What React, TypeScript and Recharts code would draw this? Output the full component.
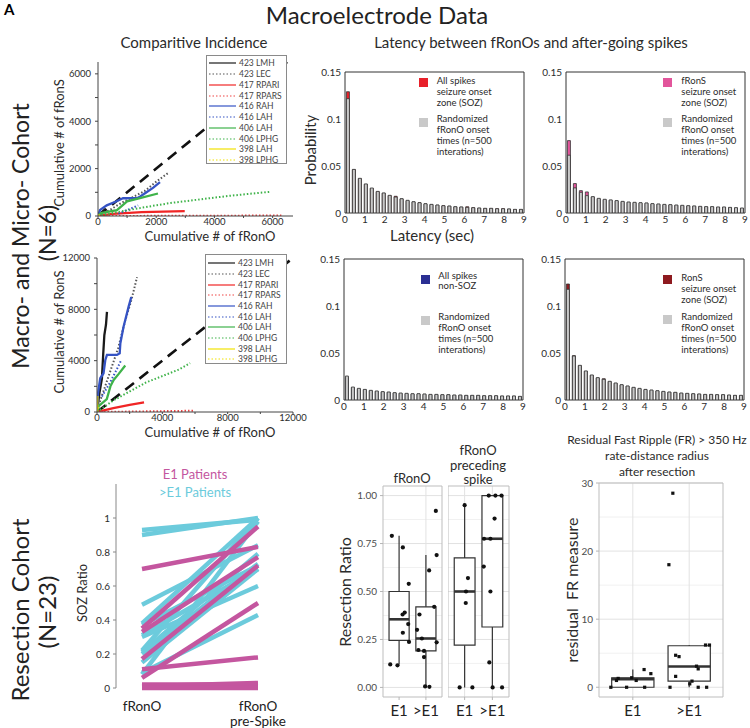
import {
  LineChart,
  Line,
  XAxis,
  YAxis,
  BarChart,
  Bar,
  ComposedChart,
  Scatter,
  ReferenceArea,
  ReferenceLine,
  CartesianGrid,
} from "recharts";

const FONT = "Lato, 'Open Sans', sans-serif";
const INK = "#2b2b2b";
const MAGENTA = "#c4569f";
const CYAN = "#6ccbdc";

// ---------- comparative incidence: [cumulative fRonO, cumulative fRonS / RonS] ----------
const channelNames = ["423 LMH", "423 LEC", "417 RPARI", "417 RPARS", "416 RAH", "416 LAH", "406 LAH", "406 LPHG", "398 LAH", "398 LPHG"];
const channelColors = ["#1a1a1a", "#555555", "#f02525", "#f04545", "#3553c4", "#3553c4", "#3fb34a", "#3fb34a", "#f2e200", "#f2e200"];
const channelDotted = [false, true, false, true, false, true, false, true, false, true];

const fronsLMH = [[0, 0], [120, 140], [260, 300]];
const fronsLEC = [[0, 0], [400, 250], [800, 550], [1200, 800], [1600, 1050], [2000, 1450], [2450, 1850]];
const fronsRPARI = [[0, 0], [500, 90], [1500, 160], [2980, 210]];
const fronsRPARS = [[0, 0], [3000, 10], [6300, 20]];
const fronsRAH = [[0, 0], [70, 250], [300, 450], [600, 600], [860, 750], [1340, 750], [1450, 820], [1680, 1010], [1900, 1200], [2130, 1430]];
const fronsLAH416 = [[700, 100], [1000, 250], [1200, 350], [1380, 450]];
const fronsLAH406 = [[0, 0], [100, 120], [650, 250], [1000, 620], [1440, 750], [2060, 950]];
const fronsLPHG406 = [[0, 0], [600, 150], [1500, 350], [2500, 550], [3500, 700], [4500, 850], [5900, 1020]];
const fronsLAH398 = [[0, 0], [40, 70]];
const fronsLPHG398 = [[0, 0], [80, 40]];
const fronsDiag = [[0, 0], [6500, 6500]];

const ronsLMH = [[0, 0], [150, 1500], [300, 2600], [380, 4500], [450, 6000], [550, 6800], [610, 7800]];
const ronsLEC = [[0, 0], [200, 900], [500, 2000], [900, 3500], [1300, 5000], [1700, 7000], [2100, 8700], [2450, 10500]];
const ronsRPARI = [[0, 0], [1000, 300], [2000, 550], [2880, 750]];
const ronsRPARS = [[0, 0], [3000, 50], [6000, 100]];
const ronsRAH = [[0, 0], [60, 1460], [200, 2630], [400, 3020], [510, 4060], [610, 4450], [1220, 4450], [1390, 4580], [1430, 5360], [1630, 6670], [1940, 8230], [2100, 8960]];
const ronsLAH416 = [[300, 1200], [800, 2300], [1200, 3300], [1470, 4000]];
const ronsLAH406 = [[0, 0], [100, 450], [600, 1000], [820, 2000], [1020, 2500], [1330, 2970], [1730, 3620]];
const ronsLPHG406 = [[0, 0], [1000, 900], [2000, 1600], [3000, 2300], [4000, 2800], [5000, 3300], [5700, 3800]];
const ronsLAH398 = [[0, 0], [20, 1250]];
const ronsLPHG398 = [[0, 0], [60, 400]];
const ronsDiag = [[0, 0], [12000, 12000]];

const fronsTicks = [0, 1000, 2000, 3000, 4000, 5000, 6000];
const ronsTicks = [0, 2000, 4000, 6000, 8000, 10000, 12000];

// ---------- latency histograms ----------
const latencyBins = [0.15, 0.45, 0.75, 1.05, 1.35, 1.65, 1.95, 2.25, 2.55, 2.85, 3.15, 3.45, 3.75, 4.05, 4.35, 4.65, 4.95, 5.25, 5.55, 5.85, 6.15, 6.45, 6.75, 7.05, 7.35, 7.65, 7.95, 8.25, 8.55, 8.85];
const latencyTicks = [0, 1, 2, 3, 4, 5, 6, 7, 8, 9];
const probTicks = [0, 0.05, 0.1, 0.15];

const spikesSozRand = [0.1216, 0.0464, 0.0369, 0.0309, 0.0266, 0.023, 0.0213, 0.0188, 0.017, 0.0152, 0.0135, 0.012, 0.011, 0.0099, 0.0092, 0.0085, 0.0078, 0.0074, 0.0067, 0.0064, 0.006, 0.0057, 0.0053, 0.005, 0.005, 0.0046, 0.0046, 0.0043, 0.0039, 0.0039];
const spikesSozObs = [0.129, 0.046, 0.0365, 0.0305, 0.026, 0.0225, 0.021, 0.0185, 0.0178, 0.015, 0.013, 0.0118, 0.0108, 0.0097, 0.009, 0.0083, 0.0076, 0.0072, 0.0065, 0.0062, 0.0066, 0.0055, 0.0051, 0.0048, 0.0048, 0.0044, 0.0044, 0.0041, 0.0037, 0.0037];

const fronsSozRand = [0.0615, 0.0267, 0.022, 0.0185, 0.0174, 0.0156, 0.0146, 0.0139, 0.0132, 0.0124, 0.0117, 0.0114, 0.011, 0.0107, 0.01, 0.0096, 0.0092, 0.0089, 0.0085, 0.0082, 0.0078, 0.0075, 0.0071, 0.0068, 0.0068, 0.0064, 0.0064, 0.006, 0.0057, 0.0053];
const fronsSozObs = [0.077, 0.0313, 0.0238, 0.0224, 0.017, 0.015, 0.014, 0.0135, 0.0128, 0.012, 0.0113, 0.011, 0.0106, 0.0103, 0.0096, 0.0092, 0.0088, 0.0085, 0.0081, 0.0078, 0.0074, 0.0071, 0.0067, 0.0064, 0.0064, 0.006, 0.006, 0.0056, 0.0053, 0.0049];

const spikesNonSozRand = [0.0255, 0.0138, 0.0124, 0.0113, 0.0103, 0.0096, 0.0089, 0.0085, 0.0078, 0.0074, 0.0071, 0.0067, 0.0067, 0.0064, 0.006, 0.006, 0.0057, 0.0057, 0.0053, 0.0053, 0.005, 0.005, 0.005, 0.0046, 0.0046, 0.0046, 0.0043, 0.0043, 0.0043, 0.0039];
const spikesNonSozObs = [0.024, 0.013, 0.0118, 0.0108, 0.0098, 0.0091, 0.0085, 0.0081, 0.0074, 0.007, 0.0067, 0.0063, 0.0063, 0.006, 0.0057, 0.0057, 0.0054, 0.0054, 0.005, 0.005, 0.0047, 0.0047, 0.0047, 0.0043, 0.0043, 0.0043, 0.004, 0.004, 0.004, 0.0036];

const ronsSozRand = [0.1177, 0.0468, 0.0369, 0.0309, 0.0266, 0.0238, 0.022, 0.0199, 0.0181, 0.0163, 0.0149, 0.0135, 0.0124, 0.0113, 0.0106, 0.0099, 0.0092, 0.0085, 0.0082, 0.0074, 0.0071, 0.0067, 0.0064, 0.006, 0.006, 0.0057, 0.0057, 0.0053, 0.005, 0.005];
const ronsSozObs = [0.1234, 0.0472, 0.0365, 0.0305, 0.0262, 0.0234, 0.0226, 0.0195, 0.0177, 0.016, 0.0146, 0.0132, 0.0121, 0.011, 0.0103, 0.0096, 0.0089, 0.0082, 0.0079, 0.0071, 0.0068, 0.0064, 0.0061, 0.0057, 0.0057, 0.0054, 0.0054, 0.005, 0.0047, 0.0047];

// ---------- SOZ ratio (resection cohort) ----------
const sozCats = ["fRonO", "fRonO pre-Spike"];
const sozTicks = [0, 0.2, 0.4, 0.6, 0.8, 1];
const e1Start = [0.7, 0.35, 0.33, 0.17, 0.06, 0.11, 0.02, 0.01, 0.01, 0.0];
const e1End = [0.83, 0.95, 0.77, 0.72, 0.5, 0.18, 0.02, 0.03, 0.01, 0.0];
const gtStart = [0.93, 0.9, 0.49, 0.38, 0.37, 0.31, 0.22, 0.21, 0.2, 0.15, 0.09, 0.08, 0.3];
const gtEnd = [0.99, 1.0, 0.84, 1.0, 0.72, 0.7, 1.0, 0.79, 0.73, 0.7, 0.43, 0.98, 0.6];

// ---------- resection ratio boxplots ----------
const resectCats = ["E1", ">E1"];
const ratioTicks = [0, 0.25, 0.5, 0.75, 1];
const ratioMinor = [0.125, 0.375, 0.625, 0.875];

const fronoQ1 = [0.245, 0.19];
const fronoMed = [0.355, 0.255];
const fronoQ3 = [0.5, 0.42];
const fronoLo = [0.12, 0.0];
const fronoHi = [0.79, 0.69];
const fronoE1Vals = [0.79, 0.73, 0.54, 0.39, 0.38, 0.33, 0.285, 0.237, 0.12, 0.115];
const fronoE1Jit = [-0.27, 0.14, 0.36, 0.21, 0.13, 0.34, 0.14, 0.37, -0.33, -0.06];
const fronoGtVals = [0.92, 0.69, 0.61, 0.42, 0.38, 0.3, 0.255, 0.235, 0.195, 0.19, 0.158, 0.005, 0.003];
const fronoGtJit = [0.37, 0.4, 0.12, 0.31, -0.24, -0.33, -0.15, 0.4, -0.28, -0.07, -0.07, -0.03, 0.13];

const preQ1 = [0.22, 0.315];
const preMed = [0.5, 0.775];
const preQ3 = [0.675, 1.0];
const preLo = [0.0, 0.0];
const preHi = [0.955, 1.0];
const preE1Vals = [0.95, 0.57, 0.5, 0.44, 0.0, 0.0];
const preE1Jit = [0.0, 0.12, 0.05, 0.04, -0.18, 0.28];
const preGtVals = [1.0, 1.0, 1.0, 0.88, 0.775, 0.775, 0.63, 0.5, 0.13, 0.0, 0.0];
const preGtJit = [-0.13, 0.11, 0.33, 0.08, -0.3, -0.07, -0.31, -0.07, -0.11, 0.01, 0.35];

// ---------- residual FR ----------
const frTicks = [0, 10, 20, 30];
const frMinor = [5, 15, 25];
const frQ1 = [0.0, 0.9];
const frMed = [1.2, 3.05];
const frQ3 = [1.4, 6.1];
const frLo = [0.0, 0.0];
const frHi = [2.6, 6.2];
const frE1Vals = [0, 1.0, 1.3, 0, 1.4, 1.0, 2.6, 0, 2.0];
const frE1Jit = [-0.39, -0.29, -0.26, -0.11, -0.02, 0.06, 0.2, 0.21, 0.32];
const frGtVals = [28.5, 18, 4.7, 4.5, 1.6, 0, 0.9, 0.5, 3.1, 2.7, 0, 0, 6.2, 6.2];
const frGtJit = [-0.29, -0.36, -0.24, -0.18, -0.24, -0.34, 0.05, 0.01, 0.13, 0.16, 0.16, 0.31, 0.29, 0.36];

type Rect = { l: number; t: number; r: number; b: number };

// chart box so that the plot area lands on rect
function frame(p: Rect, yw: number, xh: number, mt = 5, mr = 5) {
  const left = p.l - yw;
  const top = p.t - mt;
  const width = p.r - left + mr;
  const height = p.b - top + xh;
  return {
    style: { position: "absolute" as const, left, top, width, height },
    width,
    height,
    margin: { top: mt, right: mr, left: 0, bottom: 0 },
  };
}

const toPts = (a: number[][]) => a.map(([x, y]) => ({ x, y }));

function Txt({ x, y, s, c = INK, rot = false, lh, children }: any) {
  return (
    <div
      style={{
        position: "absolute",
        left: x,
        top: y,
        transform: `translate(-50%, -50%)${rot ? " rotate(-90deg)" : ""}`,
        fontSize: s,
        color: c,
        whiteSpace: "nowrap",
        lineHeight: lh ? `${lh}px` : 1,
        textAlign: "center",
      }}
    >
      {children}
    </div>
  );
}

function CumulativePanel({ rect, xMax, yMax, ticks, labelEvery, series, diag }: any) {
  const f = frame(rect, 40, 14, 5, 16);
  const fmt = (v: number) => (v % labelEvery === 0 ? String(v) : "");
  return (
    <div style={f.style}>
      <LineChart width={f.width} height={f.height} margin={f.margin}>
        <XAxis type="number" dataKey="x" domain={[0, xMax]} ticks={ticks} tickFormatter={fmt} allowDataOverflow height={14}
          tick={{ fontSize: 9.5, fill: INK }} tickSize={2} tickMargin={0} stroke="#444" />
        <YAxis type="number" dataKey="y" domain={[0, yMax]} ticks={ticks} tickFormatter={fmt} allowDataOverflow width={40}
          tick={{ fontSize: 9.5, fill: INK }} tickSize={3} tickMargin={4} stroke="#444" />
        <Line data={toPts(diag)} dataKey="y" stroke="#111" strokeWidth={2.6} strokeDasharray="11 7" dot={false} isAnimationActive={false} />
        {series.map((s: number[][], i: number) => (
          <Line key={channelNames[i]} data={toPts(s)} dataKey="y" stroke={channelColors[i]}
            strokeWidth={channelDotted[i] ? 2 : 2.3} strokeDasharray={channelDotted[i] ? "1.5 2" : undefined}
            dot={false} isAnimationActive={false} />
        ))}
      </LineChart>
    </div>
  );
}

function ChannelKey({ left, top, w, h, firstY, step }: any) {
  return (
    <div style={{ position: "absolute", left, top, width: w, height: h, border: "1px solid #8a8a8a", background: "#fff", boxSizing: "border-box" }}>
      {channelNames.map((n, i) => (
        <div key={n} style={{ position: "absolute", left: 2, top: firstY - top + i * step - 5, height: 10, display: "flex", alignItems: "center", fontSize: 8.5, color: "#444", whiteSpace: "nowrap" }}>
          <svg width={27} height={4}>
            <line x1={0} y1={2} x2={27} y2={2} stroke={channelColors[i]} strokeWidth={1.2} strokeDasharray={channelDotted[i] ? "1.5 2" : undefined} />
          </svg>
          <span style={{ marginLeft: 3 }}>{n}</span>
        </div>
      ))}
    </div>
  );
}

function LatencyHist({ rect, obs, rnd, color }: any) {
  const f = frame(rect, 40, 18, 6, 4);
  const data = latencyBins.map((b, i) => ({ bin: b, obs: obs[i], rnd: rnd[i] }));
  return (
    <div style={f.style}>
      <BarChart width={f.width} height={f.height} data={data} margin={f.margin} barCategoryGap="24%">
        <XAxis xAxisId="t" dataKey="bin" type="number" domain={[0, 9]} ticks={latencyTicks} allowDataOverflow height={18}
          axisLine={false} tickLine={false} tickSize={0} tickMargin={3} tick={{ fontSize: 10, fill: INK }} />
        <XAxis xAxisId="o" dataKey="bin" hide height={0} />
        <XAxis xAxisId="r" dataKey="bin" hide height={0} />
        <YAxis type="number" domain={[0, 0.15]} ticks={probTicks} allowDataOverflow width={40}
          axisLine={false} tickLine={false} tickSize={0} tickMargin={4} tick={{ fontSize: 10, fill: INK }} />
        <Bar xAxisId="o" dataKey="obs" fill={color} stroke="#333" strokeWidth={0.8} isAnimationActive={false} />
        <Bar xAxisId="r" dataKey="rnd" fill="#c9c9c9" stroke="#333" strokeWidth={0.8} isAnimationActive={false} />
        <ReferenceArea xAxisId="t" x1={0} x2={9} y1={0} y2={0.15} fill="none" stroke="#333" strokeWidth={1} ifOverflow="visible" />
      </BarChart>
    </div>
  );
}

function KeyItem({ sx, sy, tx, ty, lh = 11, color, lines }: any) {
  return (
    <>
      <div style={{ position: "absolute", left: sx - 4.5, top: sy - 4.5, width: 9, height: 9, background: color }} />
      <div style={{ position: "absolute", left: tx, top: ty, fontSize: 9.5, lineHeight: `${lh}px`, color: INK, whiteSpace: "nowrap" }}>
        {lines.map((l: string) => (
          <div key={l}>{l}</div>
        ))}
      </div>
    </>
  );
}

function SozTick(props: any) {
  const { x, y, payload } = props;
  const parts = String(payload.value).split(" ");
  return (
    <text x={x} y={y} textAnchor="middle" fontSize={13.5} fill="#222">
      {parts.map((p, i) => (
        <tspan key={p} x={x} dy={i === 0 ? 21 : 14.5}>
          {p}
        </tspan>
      ))}
    </text>
  );
}

function SozPanel() {
  const f = frame({ l: 116, t: 484, r: 290, b: 688 }, 30, 40, 5, 5);
  const data = sozCats.map((c, k) => {
    const row: Record<string, any> = { cat: c };
    gtStart.forEach((v, i) => (row["g" + i] = k === 0 ? v : gtEnd[i]));
    e1Start.forEach((v, i) => (row["e" + i] = k === 0 ? v : e1End[i]));
    return row;
  });
  return (
    <div style={f.style}>
      <LineChart width={f.width} height={f.height} data={data} margin={f.margin}>
        <XAxis dataKey="cat" padding={{ left: 26, right: 32 }} axisLine={false} tickLine={false} tickSize={0} tickMargin={2}
          height={40} interval={0} tick={(p: any) => <SozTick {...p} />} />
        <YAxis type="number" domain={[0, 1.2]} ticks={sozTicks} width={30} stroke="#888" tickSize={3} tickMargin={3}
          tick={{ fontSize: 10, fill: INK }} />
        {gtStart.map((_, i) => (
          <Line key={"g" + i} dataKey={"g" + i} stroke={CYAN} strokeWidth={4.5} dot={false} isAnimationActive={false} />
        ))}
        {e1Start.map((_, i) => (
          <Line key={"e" + i} dataKey={"e" + i} stroke={MAGENTA} strokeWidth={4.5} dot={false} isAnimationActive={false} />
        ))}
      </LineChart>
    </div>
  );
}

function BoxPanel({ rect, yw, showY, yDomain, yTicks, yMinor, yFmt, q1, med, q3, lo, hi, e1Vals, e1Jit, gtVals, gtJit, square }: any) {
  const f = frame(rect, showY ? yw : 0, 25, 5, 5);
  const pts = [
    ...e1Vals.map((v: number, i: number) => ({ x: 1 + e1Jit[i], y: v })),
    ...gtVals.map((v: number, i: number) => ({ x: 2 + gtJit[i], y: v })),
  ];
  const shape = (p: any) =>
    square ? <rect x={p.cx - 1.6} y={p.cy - 1.6} width={3.2} height={3.2} fill="#111" /> : <circle cx={p.cx} cy={p.cy} r={2.1} fill="#111" />;
  return (
    <div style={f.style}>
      <ComposedChart width={f.width} height={f.height} margin={f.margin}>
        <CartesianGrid horizontalValues={yMinor} vertical={false} stroke="#f1f1f1" />
        <CartesianGrid horizontalValues={yTicks} verticalValues={[1, 2]} stroke="#e2e2e2" />
        <XAxis type="number" dataKey="x" domain={[0.4, 2.6]} ticks={[1, 2]} tickFormatter={(v) => resectCats[v - 1]} allowDataOverflow
          height={25} axisLine={false} tickSize={3} tickMargin={5} stroke="#b5b5b5" tick={{ fontSize: 15, fill: "#222" }} />
        <YAxis type="number" dataKey="y" domain={yDomain} ticks={yTicks} tickFormatter={yFmt} allowDataOverflow hide={!showY}
          width={yw} axisLine={false} tickSize={3} tickMargin={3} stroke="#b5b5b5" tick={{ fontSize: 10, fill: "#4d4d4d" }} />
        <ReferenceArea x1={0.4} x2={2.6} y1={yDomain[0]} y2={yDomain[1]} fill="none" stroke="#bdbdbd" strokeWidth={1} ifOverflow="visible" />
        {resectCats.map((c, i) => (
          <ReferenceArea key={"b" + c} x1={i + 1 - 0.375} x2={i + 1 + 0.375} y1={q1[i]} y2={q3[i]} fill="#fff" fillOpacity={1}
            stroke="#333" strokeWidth={1.2} ifOverflow="visible" />
        ))}
        {resectCats.map((c, i) => (
          <ReferenceLine key={"lo" + c} segment={[{ x: i + 1, y: lo[i] }, { x: i + 1, y: q1[i] }]} stroke="#333" strokeWidth={1.2} ifOverflow="visible" />
        ))}
        {resectCats.map((c, i) => (
          <ReferenceLine key={"hi" + c} segment={[{ x: i + 1, y: q3[i] }, { x: i + 1, y: hi[i] }]} stroke="#333" strokeWidth={1.2} ifOverflow="visible" />
        ))}
        {resectCats.map((c, i) => (
          <ReferenceLine key={"md" + c} segment={[{ x: i + 1 - 0.375, y: med[i] }, { x: i + 1 + 0.375, y: med[i] }]} stroke="#333" strokeWidth={2.6} ifOverflow="visible" />
        ))}
        <Scatter data={pts} shape={shape} isAnimationActive={false} />
      </ComposedChart>
    </div>
  );
}

export default function App() {
  const ratioFmt = (v: number) => v.toFixed(2);
  return (
    <div style={{ position: "absolute", left: 0, top: 0, width: 750, height: 728, background: "#fff", overflow: "hidden", fontFamily: FONT, color: INK }}>
      <div style={{ position: "absolute", left: 4, top: 2, fontSize: 15, lineHeight: 1, fontWeight: 700, color: "#000" }}>A</div>
      <Txt x={377} y={15} s={24} c="#222">Macroelectrode Data</Txt>

      <Txt x={20} y={236} s={23} rot c="#222">Macro- and Micro- Cohort</Txt>
      <Txt x={47} y={233} s={23} rot c="#222">(N=6)</Txt>
      <Txt x={20} y={610} s={24} rot c="#222">Resection Cohort</Txt>
      <Txt x={47} y={612} s={24} rot c="#222">(N=23)</Txt>

      {/* comparative incidence */}
      <Txt x={194} y={42} s={15}>Comparitive Incidence</Txt>
      <CumulativePanel rect={{ l: 98, t: 62, r: 293, b: 216 }} xMax={6700} yMax={6500} ticks={fronsTicks} labelEvery={2000}
        diag={fronsDiag}
        series={[fronsLMH, fronsLEC, fronsRPARI, fronsRPARS, fronsRAH, fronsLAH416, fronsLAH406, fronsLPHG406, fronsLAH398, fronsLPHG398]} />
      <ChannelKey left={206} top={55} w={81} h={109} firstY={62.3} step={10.75} />
      <Txt x={59} y={143} s={13} rot>Cumulative # of fRonS</Txt>
      <Txt x={210} y={236} s={13}>Cumulative # of fRonO</Txt>

      <CumulativePanel rect={{ l: 97, t: 258, r: 293, b: 412 }} xMax={12000} yMax={12000} ticks={ronsTicks} labelEvery={4000}
        diag={ronsDiag}
        series={[ronsLMH, ronsLEC, ronsRPARI, ronsRPARS, ronsRAH, ronsLAH416, ronsLAH406, ronsLPHG406, ronsLAH398, ronsLPHG398]} />
      <ChannelKey left={205} top={254} w={82} h={110} firstY={262.3} step={10.67} />
      <Txt x={59} y={332} s={13} rot>Cumulative # of RonS</Txt>
      <Txt x={210} y={432} s={13}>Cumulative # of fRonO</Txt>

      {/* latency histograms */}
      <Txt x={531} y={42} s={15}>Latency between fRonOs and after-going spikes</Txt>
      <LatencyHist rect={{ l: 345, t: 72, r: 524, b: 213 }} obs={spikesSozObs} rnd={spikesSozRand} color="#e8202a" />
      <LatencyHist rect={{ l: 566, t: 72, r: 745, b: 213 }} obs={fronsSozObs} rnd={fronsSozRand} color="#e2559b" />
      <LatencyHist rect={{ l: 344, t: 259, r: 523, b: 400 }} obs={spikesNonSozObs} rnd={spikesNonSozRand} color="#2b2f93" />
      <LatencyHist rect={{ l: 565, t: 259, r: 744, b: 400 }} obs={ronsSozObs} rnd={ronsSozRand} color="#8e1a1f" />
      <Txt x={310} y={150} s={15} rot>Probability</Txt>
      <Txt x={432} y={235} s={15}>Latency (sec)</Txt>

      <KeyItem sx={423.3} sy={82.5} tx={436.7} ty={75.3} color="#e8202a" lines={["All spikes", "seizure onset", "zone (SOZ)"]} />
      <KeyItem sx={423.3} sy={122.5} tx={436.7} ty={113} color="#c9c9c9" lines={["Randomized", "fRonO onset", "times (n=500", "interations)"]} />
      <KeyItem sx={667} sy={82} tx={681.3} ty={75.3} color="#e2559b" lines={["fRonS", "seizure onset", "zone (SOZ)"]} />
      <KeyItem sx={667} sy={122.3} tx={681.3} ty={113} color="#c9c9c9" lines={["Randomized", "fRonO onset", "times (n=500", "interations)"]} />
      <KeyItem sx={425.3} sy={279.5} tx={438.3} ty={271.3} lh={10} color="#2b2f93" lines={["All spikes", "non-SOZ"]} />
      <KeyItem sx={425.3} sy={320.3} tx={438.3} ty={310.6} color="#c9c9c9" lines={["Randomized", "fRonO onset", "times (n=500", "interations)"]} />
      <KeyItem sx={667.3} sy={279.7} tx={681.3} ty={272} color="#8e1a1f" lines={["RonS", "seizure onset", "zone (SOZ)"]} />
      <KeyItem sx={667.3} sy={319.7} tx={681.3} ty={310.6} color="#c9c9c9" lines={["Randomized", "fRonO onset", "times (n=500", "interations)"]} />

      {/* SOZ ratio */}
      <SozPanel />
      <Txt x={195} y={474} s={13} c={MAGENTA}>E1 Patients</Txt>
      <Txt x={195} y={491.5} s={13} c={CYAN}>&gt;E1 Patients</Txt>
      <Txt x={82} y={593} s={13} rot>SOZ Ratio</Txt>

      {/* resection ratio */}
      <BoxPanel rect={{ l: 383, t: 486, r: 442, b: 697 }} yw={40} showY yDomain={[-0.05, 1.05]} yTicks={ratioTicks} yMinor={ratioMinor} yFmt={ratioFmt}
        q1={fronoQ1} med={fronoMed} q3={fronoQ3} lo={fronoLo} hi={fronoHi}
        e1Vals={fronoE1Vals} e1Jit={fronoE1Jit} gtVals={fronoGtVals} gtJit={fronoGtJit} />
      <BoxPanel rect={{ l: 448, t: 486, r: 509, b: 697 }} yw={40} showY={false} yDomain={[-0.05, 1.05]} yTicks={ratioTicks} yMinor={ratioMinor} yFmt={ratioFmt}
        q1={preQ1} med={preMed} q3={preQ3} lo={preLo} hi={preHi}
        e1Vals={preE1Vals} e1Jit={preE1Jit} gtVals={preGtVals} gtJit={preGtJit} />
      <Txt x={345} y={592} s={16} rot>Resection Ratio</Txt>
      <Txt x={412} y={478} s={13}>fRonO</Txt>
      <Txt x={478} y={465} s={13} lh={14.5}>fRonO<br />preceding<br />spike</Txt>

      {/* residual FR */}
      <BoxPanel rect={{ l: 599, t: 483, r: 723, b: 697 }} yw={35} showY yDomain={[-1.43, 30]} yTicks={frTicks} yMinor={frMinor} yFmt={(v: number) => String(v)}
        q1={frQ1} med={frMed} q3={frQ3} lo={frLo} hi={frHi}
        e1Vals={frE1Vals} e1Jit={frE1Jit} gtVals={frGtVals} gtJit={frGtJit} square />
      <Txt x={657} y={456} s={12} lh={16}>Residual Fast Ripple (FR) &gt; 350 Hz<br />rate-distance radius<br />after resection</Txt>
      <Txt x={572} y={590} s={16} rot>residual&nbsp; FR measure</Txt>
    </div>
  );
}
